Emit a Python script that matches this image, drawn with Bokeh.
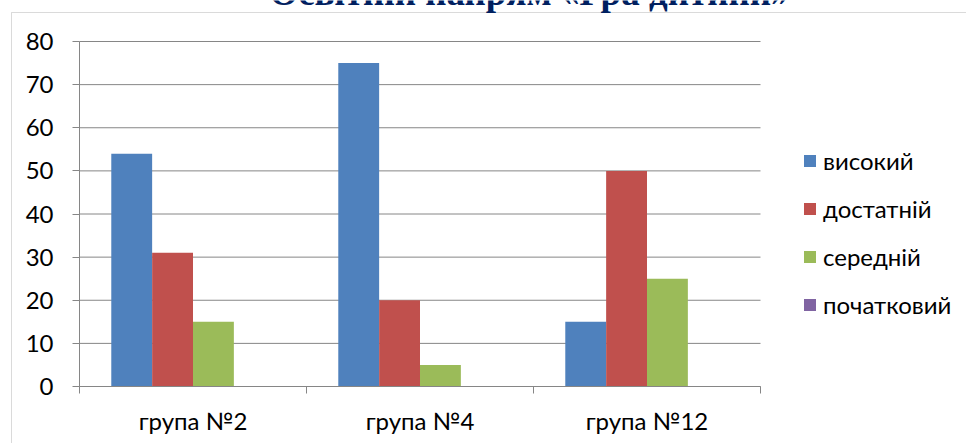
from bokeh.plotting import figure
from bokeh.models import FixedTicker, Label, BoxAnnotation
from bokeh.embed import file_html
from bokeh.resources import INLINE
import numpy as np

title_text = "Освітній напрям «Гра дитини»"
groups = ["група №2", "група №4", "група №12"]
series_names = ["високий", "достатній", "середній", "початковий"]
vysokyi = [54, 75, 15]
dostatnii = [31, 20, 50]
serednii = [15, 5, 25]
pochatkovyi = [0, 0, 0]
y_ticks = [0, 10, 20, 30, 40, 50, 60, 70, 80]

series_values = [vysokyi, dostatnii, serednii, pochatkovyi]
colors = ["#4F81BD", "#C0504D", "#9BBB59", "#8064A2"]
offsets = [-0.27, -0.09, 0.09, 0.27]
bar_w = 0.18
grey = "#868686"
FONT = "Lato"

# canvas / plot-area geometry in pixels
W, H = 966, 443
PL, PR, PT, PB = 79, 760, 41, 386
BOX_L, BOX_T = 11, 12
ng = len(groups)
ymax = y_ticks[-1]
sx = (PR - PL) / ng
sy = (PB - PT) / ymax
x_range = (-PL / sx, (W - PL) / sx)
y_range = (-(H - PB) / sy, ymax + PT / sy)

p = figure(width=W, height=H, output_backend="svg", toolbar_location=None,
           x_range=x_range, y_range=y_range,
           min_border_left=0, min_border_right=0, min_border_top=0, min_border_bottom=0)
p.margin = (0, 0, 0, 0)
p.outline_line_color = None
p.background_fill_color = "white"
p.border_fill_color = "white"
p.xgrid.visible = False
p.ygrid.visible = False

# outer chart box (left and top edges visible; the rest lies outside the picture)
box = BoxAnnotation(left=(BOX_L - PL) / sx, right=x_range[1] + 1,
                    top=ymax + (PT - BOX_T) / sy, bottom=y_range[0] - 5,
                    fill_color=None, fill_alpha=0, line_color=grey, line_width=1,
                    level="underlay")
p.add_layout(box)

# gridlines across the plot area only
p.segment(x0=0, x1=ng, y0=y_ticks, y1=y_ticks, line_color=grey, line_width=1)

idx = np.arange(ng)
for name, vals, col, off in zip(series_names, series_values, colors, offsets):
    p.vbar(x=idx + 0.5 + off, top=vals, width=bar_w, bottom=0,
           fill_color=col, line_color=None, legend_label=name)

# y axis
ya = p.yaxis[0]
ya.fixed_location = 0
ya.bounds = (0, ymax)
ya.ticker = FixedTicker(ticks=y_ticks)
ya.axis_line_color = grey
ya.major_tick_line_color = grey
ya.major_tick_out = 7
ya.major_tick_in = 0
ya.minor_tick_line_color = None
ya.major_label_text_font = FONT
ya.major_label_text_font_size = "24px"
ya.major_label_text_color = "black"
ya.major_label_standoff = 19

# x axis
xa = p.xaxis[0]
xa.fixed_location = 0
xa.bounds = (0, ng)
xa.ticker = FixedTicker(ticks=list(idx + 0.5), minor_ticks=list(range(ng + 1)))
xa.major_label_overrides = {float(i + 0.5): g for i, g in enumerate(groups)}
xa.axis_line_color = grey
xa.major_tick_line_color = None
xa.major_tick_out = 0
xa.major_tick_in = 0
xa.minor_tick_line_color = grey
xa.minor_tick_out = 7
xa.minor_tick_in = 0
xa.major_label_text_font = FONT
xa.major_label_text_font_size = "24px"
xa.major_label_text_color = "black"
xa.major_label_standoff = 12

# legend
lg = p.legend[0]
item_h = 30
lg.location = (802, H - (304.5 + item_h / 2))
lg.glyph_width = 15
lg.glyph_height = 15
lg.label_standoff = 6
lg.label_height = item_h
lg.spacing = 48 - item_h
lg.padding = 0
lg.margin = 0
lg.border_line_color = None
lg.background_fill_alpha = 0
lg.label_text_font = FONT
lg.label_text_font_size = "24px"
lg.label_text_color = "black"

# title (cut off at top, as in reference)
t = Label(x=529, y=H + 8, x_units="screen", y_units="screen",
          text=title_text, text_align="center", text_baseline="alphabetic",
          text_font="Liberation Serif", text_font_style="bold",
          text_font_size="37px", text_color="#002060")
p.add_layout(t)

open("out.html", "w").write(file_html(p, INLINE))
